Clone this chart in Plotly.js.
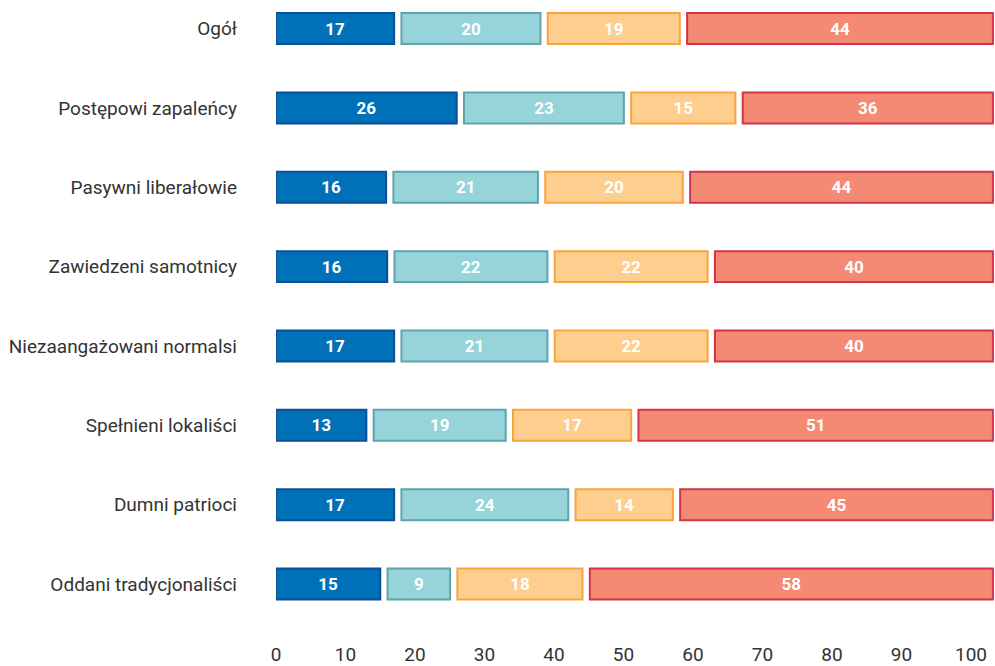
<!DOCTYPE html>
<html>
<head>
<meta charset="utf-8">
<script src="https://cdn.plot.ly/plotly-3.0.1.min.js"></script>
<style>html,body{margin:0;padding:0;background:#fff;}#chart{width:995px;height:666px;}</style>
</head>
<body>
<div id="chart"></div>
<script>
const categories = ['Ogół','Postępowi zapaleńcy','Pasywni liberałowie','Zawiedzeni samotnicy','Niezaangażowani normalsi','Spełnieni lokaliści','Dumni patrioci','Oddani tradycjonaliści'];
const series1 = [17,26,16,16,17,13,17,15];
const series2 = [20,23,21,22,21,19,24,9];
const series3 = [19,15,20,22,22,17,14,18];
const series4 = [44,36,44,40,40,51,45,58];
const tickValues = [0,10,20,30,40,50,60,70,80,90,100];

const allSeries = [series1, series2, series3, series4];
const fills = ['#0071b9','#96d4da','#fdce8d','#f48a74'];
const lines = ['#0b4f98','#5ea3ae','#f9a53c','#d2344a'];
const GAP = 1.05;

// rows are shares of 100%; rounded values are normalised so each row spans 100
const rowSums = categories.map((c, i) => allSeries.reduce((a, s) => a + s[i], 0));

const traces = allSeries.map((vals, j) => {
  const scaled = vals.map((v, i) => v * 100 / rowSums[i]);
  const base = vals.map((v, i) => {
    let s = 0;
    for (let k = 0; k < j; k++) s += allSeries[k][i] * 100 / rowSums[i];
    return s + j * GAP;
  });
  return {
    type: 'bar',
    orientation: 'h',
    y: categories,
    x: scaled,
    base: base,
    text: vals.map(String),
    textposition: 'inside',
    insidetextanchor: 'middle',
    constraintext: 'none',
    textfont: {family: 'Roboto, sans-serif', size: 17, color: '#ffffff', weight: 'bold'},
    marker: {color: fills[j], line: {color: lines[j], width: 2}},
    hoverinfo: 'none',
    showlegend: false
  };
});

const layout = {
  width: 995,
  height: 666,
  margin: {l: 276, r: 0, t: 0, b: 26},
  barmode: 'overlay',
  bargap: 0.61,
  paper_bgcolor: '#ffffff',
  plot_bgcolor: '#ffffff',
  font: {family: 'Roboto, sans-serif', color: '#333333'},
  xaxis: {
    range: [0, 103.45],
    tickvals: tickValues,
    ticktext: tickValues.map(String),
    showgrid: false,
    zeroline: false,
    showline: false,
    ticks: '',
    ticklabelstandoff: 1,
    tickfont: {size: 19, color: '#333333'},
    fixedrange: true
  },
  yaxis: {
    type: 'category',
    range: [7.705, -0.36],
    showgrid: false,
    zeroline: false,
    showline: false,
    ticks: '',
    ticklabelstandoff: 38,
    tickfont: {size: 19, color: '#333333'},
    fixedrange: true
  }
};

Plotly.newPlot('chart', traces, layout, {displayModeBar: false, staticPlot: true});
</script>
</body>
</html>
